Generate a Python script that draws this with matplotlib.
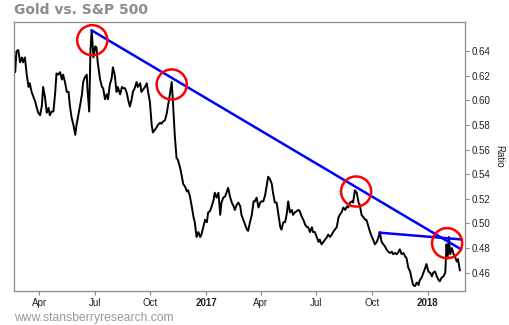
import numpy as np
import matplotlib
matplotlib.use('Agg')
import matplotlib.pyplot as plt
import matplotlib.dates as mdates

plt.rcParams['font.family'] = ['Liberation Sans', 'DejaVu Sans']

# days counted from 2016-02-19
start = np.datetime64('2016-02-19')
days = [0, 2, 4, 7, 10, 13, 15, 18, 21, 24, 26, 29, 32, 35, 37, 40, 43, 46, 48, 51,
        54, 57, 59, 62, 65, 68, 70, 73, 76, 79, 81, 84, 87, 90, 92, 95, 98, 101, 103, 106,
        109, 112, 114, 117, 120, 121, 124, 126, 128, 131, 134, 136, 138, 142, 145, 147, 150, 153, 155, 158,
        161, 163, 166, 169, 171, 175, 178, 180, 183, 186, 188, 191, 194, 196, 199, 202, 204, 208, 210, 213,
        216, 219, 221, 224, 227, 229, 232, 235, 237, 241, 243, 246, 249, 252, 254, 257, 260, 262, 265, 268,
        270, 274, 276, 279, 282, 285, 287, 290, 293, 296, 298, 301, 304, 307, 309, 312, 315, 318, 320, 323,
        326, 329, 331, 334, 337, 340, 342, 345, 348, 351, 353, 356, 359, 362, 364, 367, 370, 373, 375, 378,
        381, 384, 386, 389, 392, 395, 397, 400, 403, 406, 408, 411, 414, 417, 419, 422, 425, 427, 430, 433,
        436, 439, 441, 444, 447, 450, 452, 455, 458, 460, 463, 466, 469, 471, 474, 477, 480, 483, 485, 488,
        491, 493, 496, 499, 502, 504, 507, 510, 513, 516, 518, 521, 524, 526, 529, 532, 535, 537, 540, 543,
        546, 549, 551, 554, 557, 559, 562, 565, 568, 570, 573, 576, 579, 581, 584, 587, 590, 592, 595, 598,
        601, 603, 606, 609, 612, 614, 617, 620, 623, 625, 628, 631, 634, 636, 639, 642, 645, 647, 650, 653,
        656, 658, 661, 664, 667, 669, 672, 675, 678, 680, 683, 686, 689, 691, 694, 697, 700, 702, 705, 708,
        711, 713, 715, 717, 719, 722, 724, 727, 730, 732, 735]
ratio = [0.637, 0.623, 0.640, 0.641, 0.631, 0.635, 0.631, 0.635, 0.621, 0.611, 0.614, 0.607, 0.603, 0.599, 0.595, 0.590, 0.588, 0.596, 0.611, 0.603,
         0.590, 0.594, 0.588, 0.591, 0.591, 0.607, 0.622, 0.621, 0.623, 0.617, 0.621, 0.615, 0.607, 0.607, 0.596, 0.586, 0.580, 0.572, 0.580, 0.588,
         0.596, 0.605, 0.615, 0.619, 0.621, 0.610, 0.591, 0.640, 0.657, 0.635, 0.644, 0.643, 0.631, 0.617, 0.611, 0.610, 0.601, 0.605, 0.601, 0.613,
         0.618, 0.627, 0.621, 0.607, 0.611, 0.605, 0.611, 0.610, 0.610, 0.606, 0.601, 0.595, 0.601, 0.607, 0.610, 0.615, 0.611, 0.614, 0.607, 0.609,
         0.611, 0.614, 0.607, 0.599, 0.580, 0.574, 0.576, 0.578, 0.580, 0.582, 0.581, 0.583, 0.584, 0.590, 0.596, 0.605, 0.615, 0.599, 0.572, 0.553,
         0.552, 0.545, 0.540, 0.532, 0.530, 0.526, 0.527, 0.522, 0.514, 0.505, 0.501, 0.489, 0.493, 0.489, 0.491, 0.497, 0.503, 0.501, 0.509, 0.510,
         0.514, 0.519, 0.525, 0.521, 0.525, 0.507, 0.517, 0.521, 0.522, 0.526, 0.529, 0.522, 0.517, 0.514, 0.511, 0.515, 0.517, 0.514, 0.507, 0.503,
         0.499, 0.495, 0.494, 0.501, 0.507, 0.518, 0.518, 0.521, 0.513, 0.517, 0.518, 0.518, 0.523, 0.532, 0.538, 0.536, 0.532, 0.525, 0.517, 0.517,
         0.507, 0.497, 0.495, 0.501, 0.501, 0.509, 0.518, 0.509, 0.511, 0.507, 0.509, 0.510, 0.511, 0.510, 0.506, 0.503, 0.499, 0.497, 0.497, 0.493,
         0.497, 0.493, 0.493, 0.489, 0.485, 0.487, 0.483, 0.485, 0.487, 0.489, 0.491, 0.489, 0.491, 0.493, 0.495, 0.497, 0.505, 0.507, 0.509, 0.513,
         0.511, 0.514, 0.513, 0.517, 0.518, 0.517, 0.527, 0.525, 0.517, 0.515, 0.507, 0.505, 0.503, 0.503, 0.498, 0.493, 0.489, 0.487, 0.483, 0.485,
         0.489, 0.493, 0.485, 0.483, 0.481, 0.479, 0.477, 0.476, 0.477, 0.475, 0.476, 0.475, 0.477, 0.479, 0.475, 0.476, 0.473, 0.472, 0.464, 0.461,
         0.454, 0.450, 0.449, 0.452, 0.450, 0.454, 0.456, 0.460, 0.464, 0.467, 0.461, 0.460, 0.457, 0.460, 0.461, 0.457, 0.454, 0.453, 0.456, 0.457,
         0.460, 0.483, 0.473, 0.489, 0.475, 0.480, 0.476, 0.473, 0.469, 0.471, 0.462]

# trend lines drawn on the chart
trend1_days = [128, 737]
trend1_vals = [0.657, 0.479]
trend2_days = [603, 738]
trend2_vals = [0.4925, 0.487]

# red circles around the touch points
circle_days = [129, 260, 564, 714]
circle_vals = [0.649, 0.613, 0.526, 0.484]

yticks = [0.46, 0.48, 0.50, 0.52, 0.54, 0.56, 0.58, 0.60, 0.62, 0.64]
xtick_dates = ['2016-04-01', '2016-07-01', '2016-10-01', '2017-01-01',
               '2017-04-01', '2017-07-01', '2017-10-01', '2018-01-01']
xtick_labels = ['Apr', 'Jul', 'Oct', '2017', 'Apr', 'Jul', 'Oct', '2018']


def to_dates(d):
    return start + np.array(d).astype('timedelta64[D]')


fig = plt.figure(figsize=(5.1, 3.25), dpi=100)
ax = fig.add_axes([14/510, 1-291/325, 451/510, 269/325])

ax.plot(to_dates(days), ratio, color='black', lw=1.4, zorder=2)
ax.plot(to_dates(trend1_days), trend1_vals, color='#0000ff', lw=1.8, zorder=3)
ax.plot(to_dates(trend2_days), trend2_vals, color='#0000ff', lw=1.8, zorder=3)
ax.scatter(to_dates(circle_days), circle_vals, s=470, facecolors='none',
           edgecolors='#ff0000', linewidths=1.8, zorder=4)

x0 = mdates.date2num(start)
ax.set_xlim(x0, x0 + 743.5)
ax.set_ylim(0.4451, 0.6638)

ax.yaxis.tick_right()
ax.yaxis.set_label_position('right')
ax.set_yticks(yticks)
ax.set_yticklabels(['%.2f' % v for v in yticks])
ax.set_ylabel('Ratio', rotation=270, fontsize=7, labelpad=10, color='#222222')

ax.set_xticks(mdates.date2num(np.array(xtick_dates, dtype='datetime64[D]')))
ax.set_xticklabels(xtick_labels)
for lab in ax.get_xticklabels():
    if lab.get_text() in ('2017', '2018'):
        lab.set_fontweight('bold')

ax.tick_params(direction='out', length=3, width=0.8, color='#888888',
               labelsize=7, labelcolor='#222222', pad=2)
for sp in ax.spines.values():
    sp.set_color('#8a8a8a')
    sp.set_linewidth(0.9)

fig.text(14/510, 1-10/325, 'Gold vs. S&P 500', fontsize=10, fontweight='bold',
         color='#8c8c8c', va='center', ha='left', family='DejaVu Sans')
fig.text(14/510, 1-318/325, 'www.stansberryresearch.com', fontsize=8.7,
         color='#999999', va='center', ha='left')

fig.savefig('out.png', dpi=100)
